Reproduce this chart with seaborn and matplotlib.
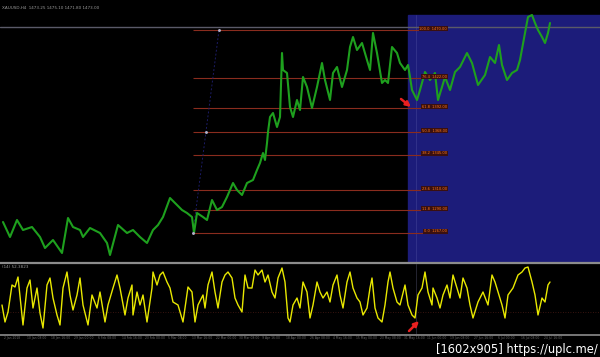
import matplotlib
matplotlib.use("Agg")
import matplotlib.pyplot as plt
import seaborn as sns
import pandas as pd

# ---------------- data ----------------
price_bar = [3,10,17,23,32,40,45,53,62,68,
             73,80,83,90,100,107,110,118,127,133,
             140,147,153,158,163,170,177,182,187,192,
             194,197,203,207,212,217,222,227,233,237,
             242,247,253,257,260,263,265,267,268,270,
             273,277,280,282,283,287,290,293,297,300,
             303,307,312,317,322,325,330,333,337,342,
             347,350,353,357,362,367,370,373,377,382,
             385,388,392,397,400,405,408,410,412,417,
             420,425,430,435,438,442,445,450,455,460,
             467,472,478,485,490,495,499,502,507,512,
             517,520,525,528,532,535,538,542,545,548,
             550]
price_close = [1278,1263,1280,1270,1273,1263,1252,1260,1247,1282,
               1273,1270,1263,1272,1267,1257,1245,1275,1267,1270,
               1263,1257,1270,1275,1283,1302,1295,1290,1287,1283,
               1267,1287,1283,1280,1300,1290,1293,1303,1317,1310,
               1305,1317,1320,1330,1337,1347,1340,1357,1368,1383,
               1387,1373,1383,1447,1430,1427,1393,1383,1400,1390,
               1423,1413,1392,1413,1437,1420,1400,1427,1433,1413,
               1430,1453,1463,1450,1457,1440,1430,1467,1447,1417,
               1420,1417,1453,1447,1437,1430,1435,1423,1410,1400,
               1410,1428,1420,1427,1400,1413,1423,1410,1428,1433,
               1447,1437,1415,1425,1443,1437,1455,1435,1420,1427,
               1430,1440,1467,1483,1485,1477,1470,1463,1457,1467,
               1477]

osc_bar = [2,5,8,12,15,18,22,23,27,30,33,37,40,43,47,50,53,57,60,63,67,70,73,77,80,83,88,92,97,100,
           105,108,113,117,120,125,128,132,133,137,140,143,147,152,153,157,160,163,167,170,173,178,183,188,192,195,198,
           203,205,208,212,215,218,222,225,228,232,235,238,242,245,248,252,255,258,262,265,
           268,272,275,278,282,285,288,290,293,297,300,303,307,310,313,317,320,323,327,330,
           333,337,340,343,347,350,353,357,360,363,367,370,372,375,378,382,385,388,390,393,397,400,
           405,408,412,415,418,422,425,428,432,433,437,440,443,447,450,453,457,460,463,467,
           470,473,478,483,488,492,495,498,502,505,508,513,518,522,525,528,532,535,538,542,545,548,550]
osc_value = [29,12,22,49,47,57,19,9,46,54,26,46,21,6,49,56,36,19,9,46,62,39,24,39,56,29,9,39,26,42,
             12,29,46,59,46,19,36,49,19,42,29,39,12,46,62,49,59,62,52,46,32,29,12,47,42,12,29,
             39,26,49,62,42,26,52,59,62,56,36,29,22,59,46,46,64,59,64,52,
             59,42,36,56,66,52,16,12,29,36,26,52,42,16,29,52,42,36,42,32,
             49,59,39,26,52,62,46,36,32,19,26,46,56,26,16,12,29,52,62,46,32,29,
             49,29,19,16,39,46,62,42,29,46,36,26,39,49,36,59,46,36,56,46,
             29,16,32,42,29,59,52,42,29,16,39,46,59,62,66,67,52,39,19,36,32,49,52]

fib_levels = ["0.0", "11.8", "23.6", "38.2", "50.0", "61.8", "76.4", "100.0"]
fib_prices = [1267, 1290, 1310, 1345, 1368, 1392, 1422, 1470]
fib_anchor_bar = [193, 206, 219]
fib_anchor_price = [1267, 1368, 1470]
current_price = 1473
osc_level = 22
zone_bars = [408, 600]
zone_prices = [1238, 1485]
marker_bar = 416

title_text = "XAUUSD,H4  1473.25 1475.10 1471.80 1473.00"
osc_label = "(14) 52.3823"
time_labels = ["2 Jan 2018", "10 Jan 08:00", "18 Jan 16:00", "29 Jan 00:00", "6 Feb 08:00",
               "14 Feb 16:00", "23 Feb 00:00", "5 Mar 08:00", "13 Mar 16:00", "22 Mar 00:00",
               "30 Mar 08:00", "9 Apr 16:00", "18 Apr 00:00", "26 Apr 08:00", "4 May 16:00",
               "15 May 00:00", "23 May 08:00", "31 May 16:00", "11 Jun 00:00", "19 Jun 08:00",
               "27 Jun 16:00", "6 Jul 00:00", "16 Jul 08:00", "24 Jul 16:00"]
watermark = "[1602x905] https://uplc.me/"

# ---------------- style ----------------
sns.set_style("dark")
plt.rcParams['font.family'] = ['DejaVu Sans']

W, H = 600, 357
fig = plt.figure(figsize=(6.0, 3.57), dpi=100, facecolor="black")

def fy(px):
    return 1 - px / H

ax = fig.add_axes([0, fy(262), 1, 262 / H])
ax2 = fig.add_axes([0, fy(334), 1, 70 / H])
for a in (ax, ax2):
    a.set_facecolor("black")
    a.set_xlim(0, 600)
    a.grid(False)
    for s in a.spines.values():
        s.set_visible(False)
    a.tick_params(left=False, right=False, top=False, bottom=False,
                  labelleft=False, labelbottom=False)
ax.set_ylim(1238, 1500)
ax2.set_ylim(0, 70)

# blue zone
ax.axvspan(zone_bars[0], zone_bars[1], ymin=0,
           ymax=(zone_prices[1] - 1238) / (1500 - 1238), color="#1c1c7a", zorder=0)
ax.axvline(marker_bar, ymin=0, ymax=(zone_prices[1] - 1238) / (1500 - 1238),
           color="#34348c", lw=0.6, zorder=1)
ax2.axvline(marker_bar, color="#2a2a3a", lw=0.6, zorder=1)

# current price line
ax.axhline(current_price, color="#5a5a68", lw=1.0, zorder=1)

# fib levels
for lev, p in zip(fib_levels, fib_prices):
    ax.hlines(p, fib_anchor_bar[0], 447, color="#8a2c1e", lw=0.8, zorder=2)
    ax.text(447, p + 1.5, f"{lev}  {p:.2f}", color="#ff7a1a", fontsize=2.6,
            ha="right", va="center", zorder=5,
            bbox=dict(boxstyle="square,pad=0.15", fc="#3a1010", ec="none"))
ax.plot(fib_anchor_bar[::2], fib_anchor_price[::2], color="#1c1c66", lw=0.7,
        ls=(0, (2, 2)), zorder=2)
ax.scatter(fib_anchor_bar, fib_anchor_price, s=1.2, color="#b0b0c8", zorder=6)

# price line
df_p = pd.DataFrame({"bar": price_bar, "close": price_close})
sns.lineplot(data=df_p, x="bar", y="close", ax=ax, color="#1ea01e", lw=1.5,
             zorder=4, estimator=None, sort=False)
ax.set_xlabel(""); ax.set_ylabel("")

# oscillator
ax2.axhline(osc_level, color="#4a1a14", lw=0.6, ls=(0, (1, 2)), zorder=1)
df_o = pd.DataFrame({"bar": osc_bar, "value": osc_value})
sns.lineplot(data=df_o, x="bar", y="value", ax=ax2, color="#e8e800", lw=1.0,
             zorder=4, estimator=None, sort=False)
ax2.set_xlabel(""); ax2.set_ylabel("")

# separators
fig.add_artist(plt.Line2D([0, 1], [fy(263), fy(263)], color="#8c8c8c", lw=1.6))
fig.add_artist(plt.Line2D([0, 1], [fy(335), fy(335)], color="#8c8c8c", lw=1.2))

# red arrows
ax.annotate("", xy=(411, 1393), xytext=(401, 1401),
            arrowprops=dict(arrowstyle="-|>", color="#e82020", lw=1.8,
                            mutation_scale=7, shrinkA=0, shrinkB=0))
ax2.annotate("", xy=(419, 13), xytext=(409, 3),
             arrowprops=dict(arrowstyle="-|>", color="#e82020", lw=1.8,
                             mutation_scale=7, shrinkA=0, shrinkB=0))

# texts
fig.text(2 / W, fy(8), title_text, color="#9a9a9a", fontsize=3.0, va="center", ha="left")
fig.text(2 / W, fy(267.5), osc_label, color="#9a9a9a", fontsize=3.0, va="center", ha="left")
for i, lab in enumerate(time_labels):
    fig.text((4 + i * 23.5) / W, fy(338), lab, color="#6a6a6a", fontsize=2.2,
             va="center", ha="left")
fig.text(598 / W, fy(349), watermark, color="white", fontsize=8.3,
         va="center", ha="right", family="DejaVu Sans",
         bbox=dict(boxstyle="square,pad=0.1", fc="black", ec="none"))

fig.savefig("out.png", dpi=100, facecolor="black")
